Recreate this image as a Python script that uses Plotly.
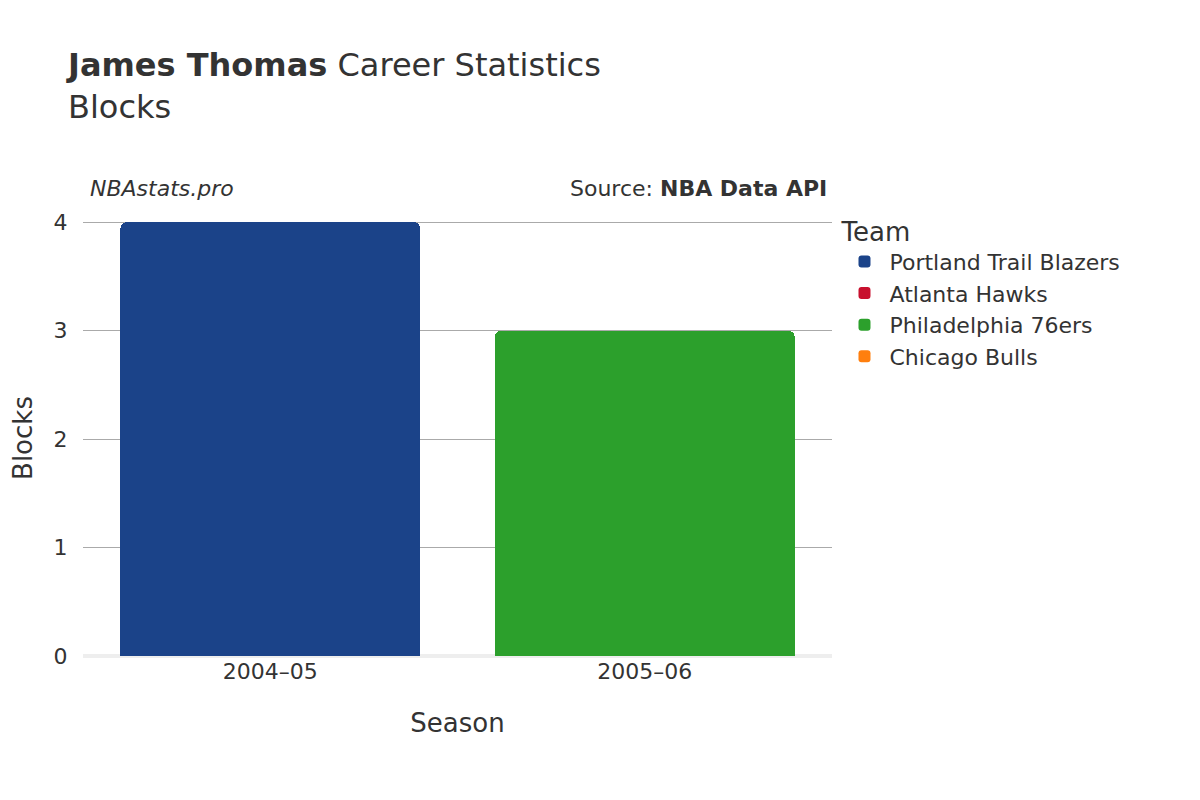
import plotly.graph_objects as go

seasons = ["2004–05", "2005–06"]
teams = ["Portland Trail Blazers", "Atlanta Hawks", "Philadelphia 76ers", "Chicago Bulls"]
colors = ["#1b4389", "#c8102e", "#2ca02c", "#ff7f0e"]
values = {
    "Portland Trail Blazers": [4, None],
    "Atlanta Hawks": [None, None],
    "Philadelphia 76ers": [None, 3],
    "Chicago Bulls": [None, None],
}

fig = go.Figure()
for t, c in zip(teams, colors):
    fig.add_trace(go.Bar(x=seasons, y=values[t], name=t, marker_color=c,
                         marker_line_width=0))

font = "DejaVu Sans"
fig.update_layout(
    width=1200, height=800, barmode="stack", bargap=0.2, barcornerradius=6,
    plot_bgcolor="white", paper_bgcolor="white",
    font=dict(family=font, color="#333", size=22),
    margin=dict(l=69, r=376, t=212, b=152),
    title=dict(text="<b>James Thomas</b> Career Statistics<br>Blocks",
               x=0.05, xanchor="left", y=0.915, yanchor="top",
               font=dict(size=32, color="#333")),
    legend=dict(title=dict(text="Team", font=dict(size=26)), x=1.01, y=1.03,
                xanchor="left", yanchor="top", font=dict(size=22),
                traceorder="normal", itemwidth=40),
    xaxis=dict(title=dict(text="Season", font=dict(size=26), standoff=30),
               showgrid=False, tickfont=dict(size=22)),
    yaxis=dict(title=dict(text="Blocks", font=dict(size=26)), range=[0, 4.02],
               dtick=1, gridcolor="#aaa", zeroline=True, zerolinecolor="#eee",
               zerolinewidth=4, ticks="outside", ticklen=10, tickcolor="white",
               tickfont=dict(size=22)),
    annotations=[
        dict(text="<i>NBAstats.pro</i>", xref="paper", yref="paper", x=0.007, y=1.04,
             xanchor="left", yanchor="bottom", showarrow=False, font=dict(size=22)),
        dict(text="Source: <b>NBA Data API</b>", xref="paper", yref="paper", x=0.996, y=1.04,
             xanchor="right", yanchor="bottom", showarrow=False, font=dict(size=22)),
    ],
)
fig.write_html("out.html")
